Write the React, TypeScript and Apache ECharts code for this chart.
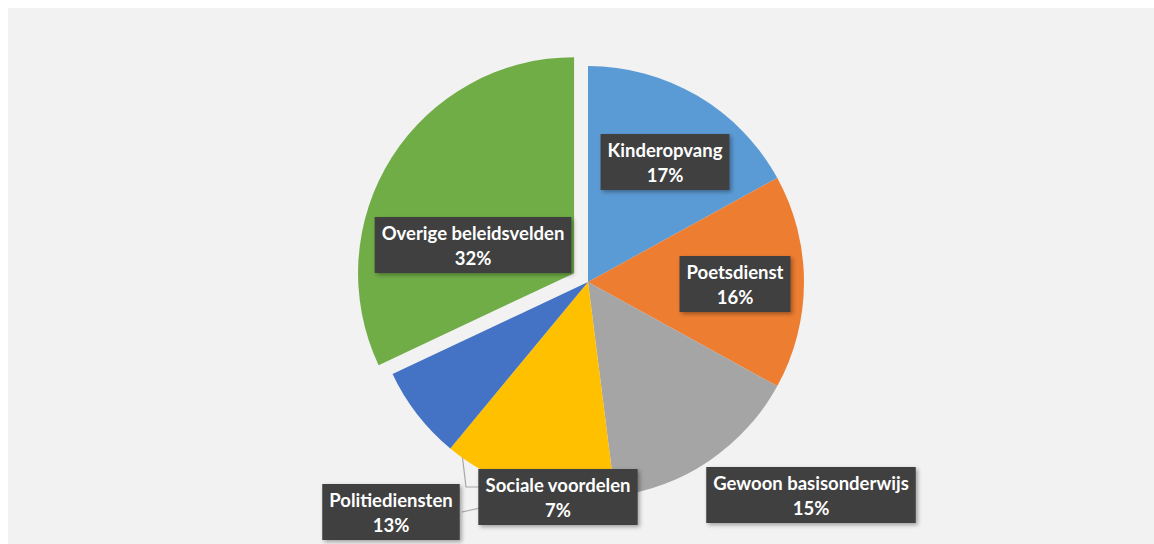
import React, { useEffect, useRef } from "react";
import * as echarts from "echarts";

const categories = [
  "Kinderopvang",
  "Poetsdienst",
  "Gewoon basisonderwijs",
  "Politiediensten",
  "Sociale voordelen",
  "Overige beleidsvelden",
];
const values = [17, 16, 15, 13, 7, 32];
const colors = ["#5B9BD5", "#ED7D31", "#A5A5A5", "#FFC000", "#4472C4", "#70AD47"];
const explodedIndex = 5;
// label centres (chart px) as placed in the original
const labelPos: [number, number][] = [
  [657, 154],
  [727, 276],
  [803, 487],
  [383, 504],
  [550, 489],
  [465, 237],
];
const politieLeader: [number, number][] = [
  [451, 420],
  [458, 479],
  [472, 479],
  [472, 500],
  [454, 504],
];

const CENTER: [number, number] = [580, 274];
const RADIUS = 216;
const OFFSET = 16.5;

export default function App() {
  const ref = useRef<HTMLDivElement>(null);
  useEffect(() => {
    if (!ref.current) return;
    const chart = echarts.init(ref.current, undefined, { renderer: "svg" });
    const total = values.reduce((a, b) => a + b, 0);
    const before = values.slice(0, explodedIndex).reduce((a, b) => a + b, 0);
    const midFrac = (before + values[explodedIndex] / 2) / total;
    const ang = midFrac * 2 * Math.PI;
    const explodedCenter = [
      CENTER[0] + OFFSET * Math.sin(ang),
      CENTER[1] - OFFSET * Math.cos(ang),
    ];
    chart.setOption({
      animation: false,
      backgroundColor: "#F2F2F2",
      series: [
        {
          type: "pie",
          center: CENTER,
          radius: RADIUS,
          startAngle: 90,
          clockwise: true,
          avoidLabelOverlap: false,
          silent: true,
          itemStyle: { borderWidth: 0 },
          emphasis: { disabled: true },
          label: {
            show: true,
            position: "outside",
            formatter: "{b}\n{c}%",
            color: "#ffffff",
            fontFamily: "Lato",
            fontWeight: "bold",
            fontSize: 18.5,
            lineHeight: 25,
            align: "center",
            backgroundColor: "#3F3F3F",
            padding: [3, 7, 3, 7],
            shadowBlur: 4,
            shadowColor: "rgba(0,0,0,0.35)",
            shadowOffsetX: 2,
            shadowOffsetY: 2,
          },
          labelLine: { show: false, lineStyle: { color: "#A6A6A6", width: 1.2 } },
          labelLayout: (params: any) => {
            const p = labelPos[params.dataIndex];
            const out: any = { x: p[0], y: p[1], align: "center", verticalAlign: "middle" };
            if (params.dataIndex === 3) out.labelLinePoints = politieLeader;
            return out;
          },
          data: categories.map((name, i) => ({
            name,
            value: values[i],
            itemStyle: { color: i === explodedIndex ? "rgba(0,0,0,0)" : colors[i] },
            labelLine: { show: i === 3 },
          })),
        },
        {
          type: "pie",
          center: explodedCenter,
          radius: RADIUS,
          startAngle: 90,
          clockwise: true,
          silent: true,
          z: 1,
          itemStyle: { borderWidth: 0 },
          emphasis: { disabled: true },
          label: { show: false },
          labelLine: { show: false },
          data: categories.map((name, i) => ({
            name,
            value: values[i],
            itemStyle: { color: i === explodedIndex ? colors[i] : "rgba(0,0,0,0)" },
          })),
        },
      ],
    });
    return () => chart.dispose();
  }, []);
  return (
    <div
      ref={ref}
      style={{ position: "fixed", left: 8, top: 8, width: 1146, height: 536 }}
    />
  );
}
